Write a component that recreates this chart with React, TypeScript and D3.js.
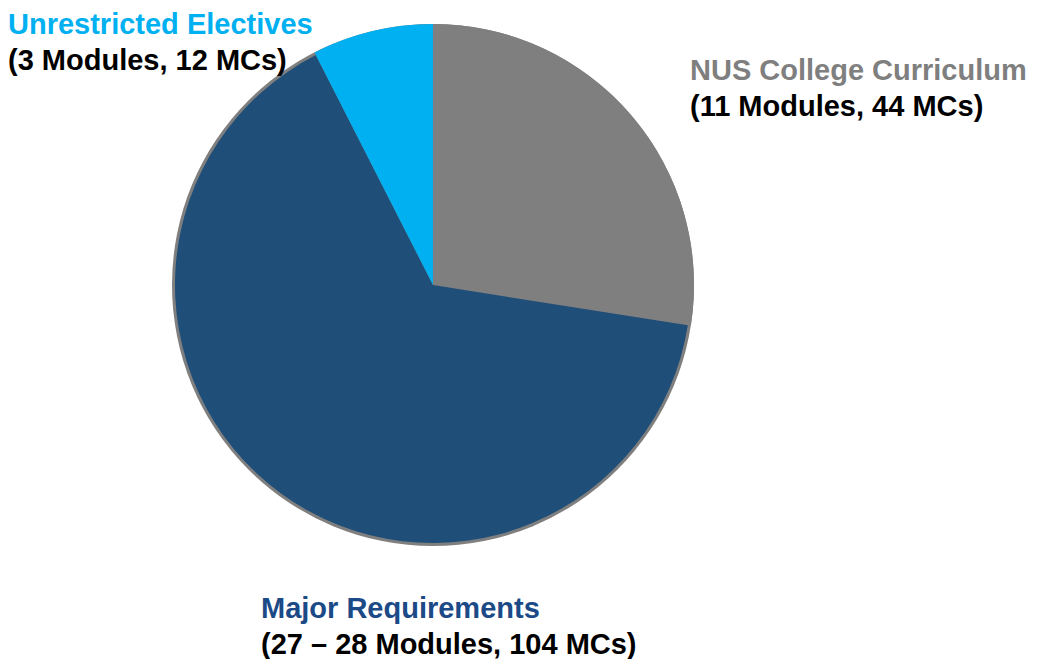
import React from "react";
import * as d3 from "d3";

const categories = ["NUS College Curriculum", "Major Requirements", "Unrestricted Electives"];
const mcs = [44, 104, 12];
const details = ["(11 Modules, 44 MCs)", "(27 – 28 Modules, 104 MCs)", "(3 Modules, 12 MCs)"];
const colors = ["#7F7F7F", "#1F4E79", "#00B0F0"];
const labelColors = ["#7F7F7F", "#1B4A87", "#00B0F0"];
const labelPos = [
  { x: 690, y1: 80, y2: 116 },
  { x: 261, y1: 618, y2: 654 },
  { x: 8, y1: 34, y2: 70 },
];

export default function App() {
  const W = 1041, H = 659;
  const cx = 433, cy = 285, R = 261;
  const pie = d3.pie<number>().sort(null).value((d) => d).startAngle(0).endAngle(2 * Math.PI);
  const arcs = pie(mcs);
  const arcFull = d3.arc<d3.PieArcDatum<number>>().innerRadius(0).outerRadius(R);
  const arcInner = d3.arc<d3.PieArcDatum<number>>().innerRadius(0).outerRadius(R - 3);
  return (
    <svg width={W} height={H} style={{ position: "absolute", left: 0, top: 0 }}>
      <g transform={`translate(${cx},${cy})`}>
        <circle r={R} fill="#7F7F7F" />
        {arcs.map((a, i) => (
          <path key={i} d={(i === 1 ? arcInner(a) : arcFull(a)) || ""} fill={colors[i]} />
        ))}
      </g>
      {categories.map((c, i) => (
        <g key={c} fontFamily="'Liberation Sans', Arial, sans-serif" fontWeight="bold" fontSize={29}>
          <text x={labelPos[i].x} y={labelPos[i].y1} fill={labelColors[i]}>{c}</text>
          <text x={labelPos[i].x} y={labelPos[i].y2} fill="#000">{details[i]}</text>
        </g>
      ))}
    </svg>
  );
}
